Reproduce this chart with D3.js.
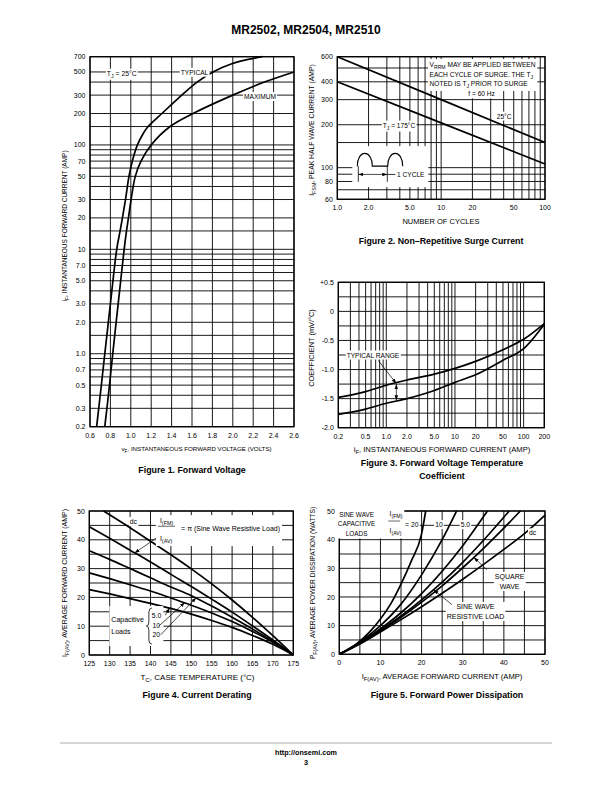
<!DOCTYPE html>
<html>
<head>
<meta charset="utf-8">
<script src="https://cdn.jsdelivr.net/npm/d3@7"></script>
<style>
  body { margin: 0; background: #fff; }
  svg { display: block; }
  text { font-family: "Liberation Sans Narrow", "Arial Narrow", "Liberation Sans", Arial, sans-serif; fill: #000; }
  text.bold { font-family: "Liberation Sans", Arial, Helvetica, sans-serif; font-weight: bold; }
</style>
</head>
<body>
<script>
// ================================================================
// DATA
// ====

// Figure 1. Forward Voltage
const vfTypical = [0.665, 0.705, 0.745, 0.80, 0.825, 0.862, 0.895, 0.918, 0.948, 0.982, 1.015, 1.065, 1.125, 1.17, 1.305, 1.50, 1.65, 1.806, 1.99, 2.29];
const ifTypical = [0.2, 0.44, 1, 3, 5, 10, 15, 20, 30, 50, 70, 100, 130, 150, 200, 300, 400, 500, 600, 700];
const vfMaximum = [0.745, 0.785, 0.823, 0.876, 0.901, 0.935, 0.958, 0.977, 1.003, 1.044, 1.1, 1.2, 1.385, 1.61, 2.0, 2.31, 2.6];
const ifMaximum = [0.2, 0.44, 1, 3, 5, 10, 15, 20, 30, 50, 70, 100, 150, 200, 300, 400, 500];
const fig1XLabels = ["0.6", "0.8", "1.0", "1.2", "1.4", "1.6", "1.8", "2.0", "2.2", "2.4", "2.6"];
const fig1YLabels = ["0.2", "0.3", "0.5", "0.7", "1.0", "2.0", "3.0", "5.0", "7.0", "10", "20", "30", "50", "70", "100", "200", "300", "500", "700"];
const fig1YGrid = [0.2, 0.3, 0.4, 0.5, 0.6, 0.7, 0.8, 0.9, 1, 1.5, 2, 3, 4, 5, 6, 7, 8, 9, 10, 15, 20, 30, 40, 50, 60, 70, 80, 90, 100, 150, 200, 300, 400, 500, 700];

// Figure 2. Non-Repetitive Surge Current
const surgeCycles = [1, 10, 100];
const surge25C = [600, 300, 150];
const surge175C = [400, 206, 106];
const fig2XLabels = ["1.0", "2.0", "5.0", "10", "20", "50", "100"];
const fig2YLabels = ["60", "80", "100", "200", "300", "400", "600"];
const fig2XGrid = [1, 2, 3, 4, 5, 6, 7, 8, 9, 10, 20, 30, 40, 50, 60, 70, 80, 90, 100];
const fig2YGrid = [60, 70, 80, 90, 100, 150, 200, 300, 400, 500, 600];

// Figure 3. Forward Voltage Temperature Coefficient
const coefCurrent = [0.2, 0.5, 1, 2, 5, 10, 20, 50, 100, 200];
const coefUpper = [-1.48, -1.38, -1.27, -1.18, -1.08, -0.98, -0.86, -0.66, -0.48, -0.21];
const coefLower = [-1.77, -1.68, -1.58, -1.50, -1.36, -1.22, -1.09, -0.84, -0.64, -0.22];
const fig3XLabels = ["0.2", "0.5", "1.0", "2.0", "5.0", "10", "20", "50", "100", "200"];
const fig3YLabels = ["-2.0", "-1.5", "-1.0", "-0.5", "0", "+0.5"];
const fig3XGrid = [0.2, 0.3, 0.4, 0.5, 0.6, 0.7, 0.8, 0.9, 1, 2, 3, 4, 5, 6, 7, 8, 9, 10, 20, 30, 40, 50, 60, 70, 80, 90, 100, 200];

// Figure 4. Current Derating
const caseTemp = [125, 130, 135, 140, 145, 150, 155, 160, 165, 170, 175];
const derateSine = [44.5, 40.5, 36.4, 32.3, 28, 23.8, 19.4, 14.9, 10.1, 5.2, 0];
const derateCap5 = [36.2, 33.2, 30, 26.8, 23.6, 20.6, 17, 13.1, 9, 4.7, 0];
const derateCap10 = [28.5, 26.5, 24.4, 22.2, 19.8, 17.3, 14.6, 11.6, 8.2, 4.4, 0];
const derateCap20 = [22.7, 21.2, 19.6, 17.9, 16.2, 14.2, 12, 9.6, 6.8, 3.7, 0];
const dcTemp = [128.5, 135, 140, 145, 150, 155, 160, 165, 170, 175];
const derateDc = [50, 44.2, 39.5, 34.8, 29.9, 24.7, 19.1, 13.1, 6.7, 0];
const fig4XLabels = ["125", "130", "135", "140", "145", "150", "155", "160", "165", "170", "175"];
const fig4YLabels = ["0", "10", "20", "30", "40", "50"];

// Figure 5. Forward Power Dissipation
const cap20Amps = [0, 2.5, 5, 7.5, 10, 12.5, 15, 17.5, 20, 21];
const cap20Watts = [0, 1.9, 4.6, 8, 12.3, 17.6, 24.5, 32.5, 42, 50];
const cap10Amps = [0, 5, 10, 15, 20, 25, 28.5];
const cap10Watts = [0, 4.3, 10, 17.5, 27.7, 40, 50];
const cap5Amps = [0, 5, 10, 15, 20, 25, 30, 36];
const cap5Watts = [0, 4.1, 8.9, 14.5, 21.2, 29, 37.9, 50];
const sineAmps = [0, 5, 10, 15, 20, 25, 30, 35, 41.3];
const sineWatts = [0, 3.9, 8.4, 13.4, 19, 25.2, 32.1, 39.7, 50];
const squareAmps = [0, 5, 10, 15, 20, 25, 30, 35, 40, 44];
const squareWatts = [0, 3.8, 8.1, 12.9, 18.2, 23.9, 30.2, 36.9, 44, 50];
const dcAmps = [0, 5, 10, 15, 20, 25, 30, 35, 40, 45, 50];
const dcWatts = [0, 3.6, 7.8, 12.1, 16.6, 21.3, 26.2, 31.3, 36.6, 42.1, 48.6];
const fig5XLabels = ["0", "10", "20", "30", "40", "50"];
const fig5YLabels = ["0", "10", "20", "30", "40", "50"];

const zip = (xs, ys) => xs.map((v, i) => [v, ys[i]]);

// ================================================================
// PAGE
// ====
const FS = 6.2;     // annotation text
const TICK = 7;     // tick labels
const svg = d3.select("body").append("svg")
    .attr("width", 612).attr("height", 792);
svg.append("rect").attr("width", 612).attr("height", 792).attr("fill", "#fff");

svg.append("defs").append("marker")
    .attr("id", "arrow")
    .attr("viewBox", "0 0 10 10")
    .attr("refX", 10).attr("refY", 5)
    .attr("markerWidth", 5).attr("markerHeight", 5)
    .attr("markerUnits", "userSpaceOnUse")
    .attr("orient", "auto-start-reverse")
    .append("path").attr("d", "M0,1.5L10,5L0,8.5z").attr("fill", "#000");

svg.append("text").attr("class", "bold")
    .attr("x", 306).attr("y", 34).attr("text-anchor", "middle")
    .attr("font-size", 12).text("MR2502, MR2504, MR2510");

svg.append("line").attr("x1", 60).attr("x2", 552).attr("y1", 743).attr("y2", 743)
    .attr("stroke", "#999").attr("stroke-width", 0.8);
svg.append("text").attr("class", "bold").attr("x", 306).attr("y", 755)
    .attr("text-anchor", "middle").attr("font-size", 7.2).text("http://onsemi.com");
svg.append("text").attr("class", "bold").attr("x", 306).attr("y", 765)
    .attr("text-anchor", "middle").attr("font-size", 7.2).text("3");

// text with subscripts: parts = ["T", ["J"], " = 25°C"]
function richText(parent, x, y, parts, size, anchor) {
    const s = size || FS;
    const t = parent.append("text").attr("x", x).attr("y", y)
        .attr("font-size", s).attr("text-anchor", anchor || "start");
    let down = false;
    parts.forEach(p => {
        const sub = Array.isArray(p);
        const span = t.append("tspan").text(sub ? p[0] : p);
        if (sub) {
            span.attr("font-size", s * 0.78);
            if (!down) { span.attr("dy", s * 0.3); down = true; }
        } else if (down) {
            span.attr("dy", -s * 0.3); down = false;
        }
    });
    return t;
}

// group with a white box behind it
function boxed(parent, draw, pad) {
    const grp = parent.append("g");
    draw(grp);
    const b = grp.node().getBBox();
    const p = pad == null ? 1 : pad;
    grp.insert("rect", ":first-child")
        .attr("x", b.x - p).attr("y", b.y - p)
        .attr("width", b.width + 2 * p).attr("height", b.height + 2 * p)
        .attr("fill", "#fff");
    return grp;
}

function arrow(parent, p, a, b, both) {
    parent.append("line")
        .attr("x1", p.x(a[0])).attr("y1", p.y(a[1]))
        .attr("x2", p.x(b[0])).attr("y2", p.y(b[1]))
        .attr("stroke", "#000").attr("stroke-width", 0.7)
        .attr("marker-end", "url(#arrow)")
        .attr("marker-start", both ? "url(#arrow)" : null);
}

function drawPanel(p) {
    const g = svg.append("g");
    const [xl, xr] = p.x.range();
    const [yb, yt] = p.y.range();

    g.append("g").selectAll("line").data(p.xGrid).join("line")
        .attr("x1", d => p.x(d)).attr("x2", d => p.x(d))
        .attr("y1", yb).attr("y2", yt)
        .attr("stroke", "#000").attr("stroke-width", 0.9);
    g.append("g").selectAll("line").data(p.yGrid).join("line")
        .attr("x1", xl).attr("x2", xr)
        .attr("y1", d => p.y(d)).attr("y2", d => p.y(d))
        .attr("stroke", "#000").attr("stroke-width", 0.9);
    g.append("rect").attr("x", xl).attr("y", yt)
        .attr("width", xr - xl).attr("height", yb - yt)
        .attr("fill", "none").attr("stroke", "#000").attr("stroke-width", 1.3);

    // tick labels
    g.append("g").selectAll("text").data(p.xLabels).join("text")
        .attr("x", d => p.x(+d)).attr("y", yb + 11)
        .attr("text-anchor", "middle").attr("font-size", TICK).text(d => d);
    g.append("g").selectAll("text").data(p.yLabels).join("text")
        .attr("x", xl - 4.5).attr("y", d => p.y(+d)).attr("dy", "0.36em")
        .attr("text-anchor", "end").attr("font-size", TICK).text(d => d);

    // curves
    const line = d3.line().x(d => p.x(d[0])).y(d => p.y(d[1])).curve(p.curve || d3.curveMonotoneX);
    g.append("g").selectAll("path").data(p.series).join("path")
        .attr("d", line)
        .attr("fill", "none").attr("stroke", "#000").attr("stroke-width", 1.7);

    // axis titles and caption
    richText(g, p.xTitleX, yb + 24.5, p.xTitle, p.xTitleSize, "middle");
    richText(g, 0, 0, p.yTitle, p.yTitleSize, "middle")
        .attr("transform", `translate(${p.yTitleX},${p.yTitleY}) rotate(-90)`);
    p.caption.forEach((c, i) => {
        g.append("text").attr("class", "bold")
            .attr("x", p.captionX).attr("y", p.captionY + i * 13)
            .attr("text-anchor", "middle").attr("font-size", 8.8).text(c);
    });
    return g;
}

// ================================================================
// FIGURE 1
// ====
const f1 = {
    x: d3.scaleLinear().domain([0.6, 2.6]).range([90, 294]),
    y: d3.scaleLog().domain([0.2, 700]).range([426.7, 56.7]),
};
const g1 = drawPanel(Object.assign(f1, {
    xGrid: fig1XLabels.map(Number), yGrid: fig1YGrid,
    xLabels: fig1XLabels, yLabels: fig1YLabels,
    series: [zip(vfTypical, ifTypical), zip(vfMaximum, ifMaximum)], curve: d3.curveCatmullRom,
    xTitle: ["v", ["F"], ", INSTANTANEOUS FORWARD VOLTAGE (VOLTS)"], xTitleSize: 6.2, xTitleX: 196.5,
    yTitle: ["i", ["F"], ", INSTANTANEOUS FORWARD CURRENT (AMP)"], yTitleSize: 6.5,
    yTitleX: 67, yTitleY: 226,
    caption: ["Figure 1. Forward Voltage"], captionX: 192, captionY: 473
}));
boxed(g1, s => richText(s, f1.x(0.765), f1.y(460), ["T", ["J"], " = 25°C"], 6.8));
boxed(g1, s => richText(s, f1.x(1.49), f1.y(470), ["TYPICAL"], 6.6));
boxed(g1, s => richText(s, f1.x(2.11), f1.y(275), ["MAXIMUM"], 6.6));

// ================================================================
// FIGURE 2
// ====
const f2 = {
    x: d3.scaleLog().domain([1, 100]).range([337.3, 545]),
    y: d3.scaleLog().domain([60, 600]).range([199.3, 56.7]),
};
const g2 = drawPanel(Object.assign(f2, {
    xGrid: fig2XGrid, yGrid: fig2YGrid,
    xLabels: fig2XLabels, yLabels: fig2YLabels,
    series: [zip(surgeCycles, surge25C), zip(surgeCycles, surge175C)], curve: d3.curveLinear,
    xTitle: ["NUMBER OF CYCLES"], xTitleSize: 7.5, xTitleX: 441,
    yTitle: ["I", ["FSM"], ", PEAK HALF WAVE CURRENT (AMP)"], yTitleSize: 6.8,
    yTitleX: 314, yTitleY: 130,
    caption: ["Figure 2. Non\u2013Repetitive Surge Current"], captionX: 441, captionY: 244
}));
boxed(g2, s => {
    richText(s, f2.x(7.73), f2.y(512), ["V", ["RRM"], " MAY BE APPLIED BETWEEN"], 6.6);
    richText(s, f2.x(7.73), f2.y(435), ["EACH CYCLE OF SURGE. THE T", ["J"]], 6.6);
    richText(s, f2.x(7.73), f2.y(371), ["NOTED IS T", ["J"], " PRIOR TO SURGE"], 6.6);
}, 1.5);
boxed(g2, s => richText(s, f2.x(18.25), f2.y(316), ["f = 60 Hz"], 6.6));
boxed(g2, s => richText(s, f2.x(34.3), f2.y(221), ["25°C"], 6.6));
boxed(g2, s => richText(s, f2.x(2.74), f2.y(191), ["T", ["J"], " = 175°C"], 6.6));

// one-cycle inset
{
    const ax = f2.x(1.558), ay = f2.y(102.5);
    const ins = g2.append("g").attr("transform", `translate(${ax},${ay})`);
    ins.append("rect").attr("x", -5).attr("y", -20).attr("width", 76).attr("height", 41).attr("fill", "#fff");
    ins.append("path")
        .attr("d", "M0,0C0,-17 15,-17 15,0L30.4,0C30.4,-17 45.4,-17 45.4,0")
        .attr("fill", "none").attr("stroke", "#000").attr("stroke-width", 1.1);
    ins.append("path").attr("d", "M1,0V15.7M30,0V15.7M30,8.3H38")
        .attr("stroke", "#000").attr("stroke-width", 0.8);
    ins.append("line").attr("x1", 1).attr("x2", 30).attr("y1", 8.3).attr("y2", 8.3)
        .attr("stroke", "#000").attr("stroke-width", 0.7)
        .attr("marker-start", "url(#arrow)").attr("marker-end", "url(#arrow)");
    ins.append("text").attr("x", 39.7).attr("y", 10.6).attr("font-size", 6.6).text("1 CYCLE");
}

// ================================================================
// FIGURE 3
// ====
const f3 = {
    x: d3.scaleLog().domain([0.2, 200]).range([338.3, 544.3]),
    y: d3.scaleLinear().domain([-2, 0.5]).range([427.7, 282.3]),
};
const g3 = drawPanel(Object.assign(f3, {
    xGrid: fig3XGrid, yGrid: d3.range(-2, 0.51, 0.25),
    xLabels: fig3XLabels, yLabels: fig3YLabels,
    series: [zip(coefCurrent, coefUpper), zip(coefCurrent, coefLower)],
    xTitle: ["i", ["F"], ", INSTANTANEOUS FORWARD CURRENT (AMP)"], xTitleSize: 7.6, xTitleX: 442,
    yTitle: ["COEFFICIENT (mV/°C)"], yTitleSize: 7.4,
    yTitleX: 314, yTitleY: 348,
    caption: ["Figure 3. Forward Voltage Temperature", "Coefficient"], captionX: 442, captionY: 466
}));
boxed(g3, s => richText(s, f3.x(0.265), f3.y(-0.793), ["TYPICAL RANGE"], 6.6));
arrow(g3, f3, [0.76, -0.84], [1.4, -1.24]);
arrow(g3, f3, [1.4, -1.25], [1.4, -1.53], true);

// ================================================================
// FIGURE 4
// ====
const f4 = {
    x: d3.scaleLinear().domain([125, 175]).range([89.3, 293.3]),
    y: d3.scaleLinear().domain([0, 50]).range([655, 511]),
};
const g4 = drawPanel(Object.assign(f4, {
    xGrid: d3.range(125, 176, 5), yGrid: d3.range(0, 51, 5),
    xLabels: fig4XLabels, yLabels: fig4YLabels,
    series: [zip(dcTemp, derateDc), zip(caseTemp, derateSine), zip(caseTemp, derateCap5),
             zip(caseTemp, derateCap10), zip(caseTemp, derateCap20)],
    xTitle: ["T", ["C"], ", CASE TEMPERATURE (°C)"], xTitleSize: 8, xTitleX: 197.5,
    yTitle: ["I", ["F(AV)"], ", AVERAGE FORWARD CURRENT (AMP)"], yTitleSize: 7,
    yTitleX: 67, yTitleY: 583,
    caption: ["Figure 4. Current Derating"], captionX: 197, captionY: 698
}));
boxed(g4, s => richText(s, f4.x(134.9), f4.y(45.5), ["dc"], 6.8));
boxed(g4, s => {
    richText(s, f4.x(142.3), f4.y(45.8), ["I", ["(FM)"]], 7);
    s.append("line").attr("x1", f4.x(141.8)).attr("x2", f4.x(146))
        .attr("y1", f4.y(44.7)).attr("y2", f4.y(44.7)).attr("stroke", "#000").attr("stroke-width", 0.6);
    richText(s, f4.x(142.3), f4.y(39.6), ["I", ["(AV)"]], 7);
    richText(s, f4.x(147.5), f4.y(43.2), ["=  \u03c0 (Sine Wave Resistive Load)"], 7);
}, 2);
arrow(g4, f4, [141.4, 40.6], [136.1, 35.4]);
boxed(g4, s => {
    richText(s, f4.x(130.4), f4.y(11.5), ["Capacitive"], 7);
    richText(s, f4.x(130.4), f4.y(7.3), ["Loads"], 7);
    const bx = f4.x(139.6), by = f4.y(16.3);
    s.append("path")
        .attr("d", `M${bx + 3},${by}Q${bx},${by} ${bx},${by + 4}L${bx},${by + 14}Q${bx},${by + 18} ${bx - 2.5},${by + 18}Q${bx},${by + 18} ${bx},${by + 22}L${bx},${by + 32}Q${bx},${by + 36} ${bx + 3},${by + 36}`)
        .attr("fill", "none").attr("stroke", "#000").attr("stroke-width", 0.8);
    richText(s, f4.x(140.3), f4.y(12.7), ["5.0"], 6.8);
    richText(s, f4.x(140.5), f4.y(9.5), ["10"], 6.8);
    richText(s, f4.x(140.5), f4.y(6.4), ["20"], 6.8);
}, 2);
arrow(g4, f4, [143.6, 13.8], [144.7, 16.3]);
arrow(g4, f4, [142, 10], [148.4, 18.2]);
arrow(g4, f4, [142.5, 7], [151.2, 19.9]);

// ================================================================
// FIGURE 5
// ====
const f5 = {
    x: d3.scaleLinear().domain([0, 50]).range([339.3, 545]),
    y: d3.scaleLinear().domain([0, 50]).range([654.3, 511]),
};
const g5 = drawPanel(Object.assign(f5, {
    xGrid: d3.range(0, 51, 5), yGrid: d3.range(0, 51, 5),
    xLabels: fig5XLabels, yLabels: fig5YLabels,
    series: [zip(cap20Amps, cap20Watts), zip(cap10Amps, cap10Watts), zip(cap5Amps, cap5Watts),
             zip(sineAmps, sineWatts), zip(squareAmps, squareWatts), zip(dcAmps, dcWatts)],
    xTitle: ["I", ["F(AV)"], ", AVERAGE FORWARD CURRENT (AMP)"], xTitleSize: 7.6, xTitleX: 442,
    yTitle: ["P", ["F(AV)"], ", AVERAGE POWER DISSIPATION (WATTS)"], yTitleSize: 6.7,
    yTitleX: 315, yTitleY: 583,
    caption: ["Figure 5. Forward Power Dissipation"], captionX: 447, captionY: 698
}));
boxed(g5, s => {
    richText(s, f5.x(4.2), f5.y(47.9), ["SINE WAVE"], 6.4, "middle");
    richText(s, f5.x(4.2), f5.y(44.6), ["CAPACITIVE"], 6.4, "middle");
    richText(s, f5.x(4.2), f5.y(41.3), ["LOADS"], 6.4, "middle");
    richText(s, f5.x(12.2), f5.y(48.3), ["I", ["(FM)"]], 6.8);
    s.append("line").attr("x1", f5.x(11.9)).attr("x2", f5.x(14.8))
        .attr("y1", f5.y(46.5)).attr("y2", f5.y(46.5)).attr("stroke", "#000").attr("stroke-width", 0.6);
    richText(s, f5.x(12.2), f5.y(42.3), ["I", ["(AV)"]], 6.8);
}, 1.5);
boxed(g5, s => richText(s, f5.x(16), f5.y(44.4), ["=  20"], 6.8));
boxed(g5, s => richText(s, f5.x(23.3), f5.y(44.4), ["10"], 6.8));
boxed(g5, s => richText(s, f5.x(29.5), f5.y(44.4), ["5.0"], 6.8));
boxed(g5, s => richText(s, f5.x(46.1), f5.y(41.5), ["dc"], 6.8));
boxed(g5, s => {
    richText(s, f5.x(41.4), f5.y(26.3), ["SQUARE"], 7, "middle");
    richText(s, f5.x(41.4), f5.y(22.8), ["WAVE"], 7, "middle");
});
arrow(g5, f5, [35.9, 29.5], [32.7, 33.8]);
boxed(g5, s => {
    richText(s, f5.x(33.1), f5.y(15.8), ["SINE WAVE"], 7, "middle");
    richText(s, f5.x(33.1), f5.y(12.3), ["RESISTIVE LOAD"], 7, "middle");
});
arrow(g5, f5, [27.4, 17.3], [22.9, 22.5]);
</script>
</body>
</html>
